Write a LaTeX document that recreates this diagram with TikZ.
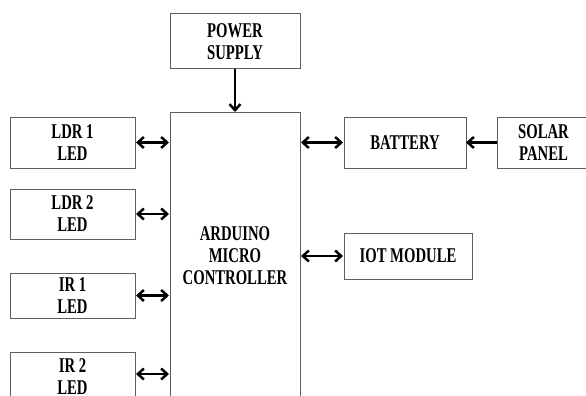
\documentclass[tikz,border=0pt]{standalone}
\usepackage{fontspec}
\newfontfamily\blockfont{Liberation Serif}[FakeStretch=0.7]
\usepackage{tikz}
\usetikzlibrary{arrows.meta,positioning}

\begin{document}
\begin{tikzpicture}[
    x=1pt, y=1pt,
    font=\blockfont\bfseries\fontsize{21}{22}\selectfont,
    block/.style={draw=boxc, line width=1pt, align=center, inner sep=0pt, outer sep=0pt, minimum width=125pt, minimum height=51pt},
    flow/.style={line width=2.5pt, -{Straight Barb[length=6pt,width=11pt]}},
    both/.style={line width=2.5pt, {Straight Barb[length=6pt,width=11pt]}-{Straight Barb[length=6pt,width=11pt]}, shorten <=1pt, shorten >=1pt}
  ]
    \definecolor{boxc}{RGB}{95,95,95}

    \useasboundingbox (0,0) rectangle (586,-396);
    \clip (0,0) rectangle (586,-396);

    \node[block, minimum width=130pt, minimum height=55pt] (power) at (235,-41.5) {POWER\\SUPPLY};
    \node[block, minimum width=130pt, minimum height=288pt, below=43pt of power] (ardu) {ARDUINO\\MICRO\\CONTROLLER};

    \node[block] (ldr1) at (72.5,-142.5) {LDR 1\\LED};
    \node[block, minimum height=50pt, below=21pt of ldr1] (ldr2) {LDR 2\\LED};
    \node[block, minimum height=45pt, below=34pt of ldr2] (ir1) {IR 1\\LED};
    \node[block, minimum height=50pt, below=34pt of ir1] (ir2) {IR 2\\LED};

    \node[block, minimum width=122pt] (batt) at (405,-142.5) {BATTERY};
    \node[block, minimum width=93pt, right=31pt of batt] (solar) {SOLAR\\PANEL};
    \node[block, minimum width=128pt, minimum height=46pt] (iot) at (408,-256) {IOT MODULE};

    \draw[flow] (power) -- (ardu);
    \draw[both] (ldr1.east) -- (ldr1.east -| ardu.west);
    \draw[both] (ldr2.east) -- (ldr2.east -| ardu.west);
    \draw[both] (ir1.east) -- (ir1.east -| ardu.west);
    \draw[both] ([yshift=3pt]ir2.east) -- ([yshift=3pt]ir2.east -| ardu.west);
    \draw[both] (batt.west -| ardu.east) -- (batt.west);
    \draw[flow] (solar) -- (batt);
    \draw[both] (iot.west -| ardu.east) -- (iot.west);
  \end{tikzpicture}
\end{document}
